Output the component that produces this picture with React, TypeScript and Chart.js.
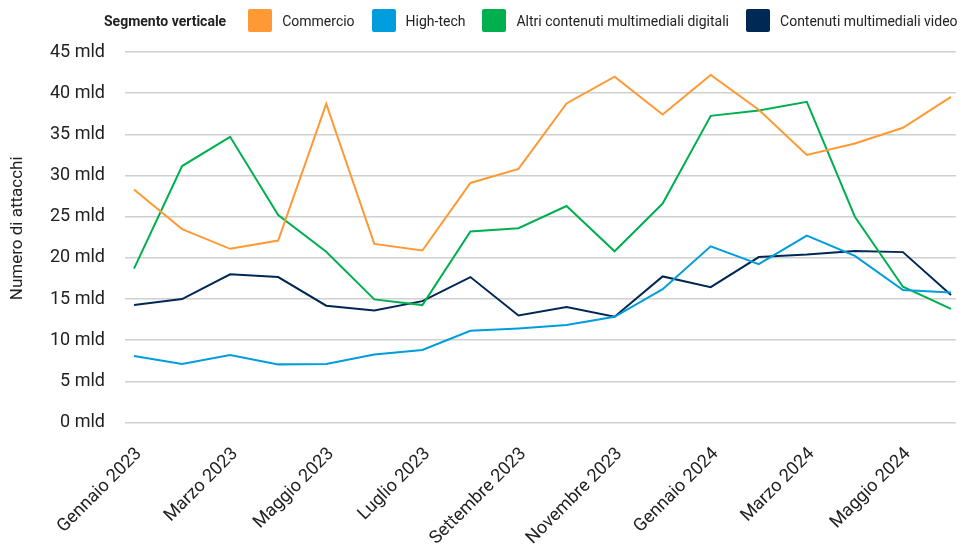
import React, { useEffect, useRef } from "react";
import { Chart, registerables } from "chart.js";

Chart.register(...registerables);

const months = [
  "Gennaio 2023", "Febbraio 2023", "Marzo 2023", "Aprile 2023", "Maggio 2023", "Giugno 2023",
  "Luglio 2023", "Agosto 2023", "Settembre 2023", "Ottobre 2023", "Novembre 2023", "Dicembre 2023",
  "Gennaio 2024", "Febbraio 2024", "Marzo 2024", "Aprile 2024", "Maggio 2024", "Giugno 2024",
];

const commercio = [28.3, 23.5, 21.1, 22.1, 38.7, 21.7, 20.9, 29.1, 30.8, 38.75, 42.0, 37.4, 42.2, 38.0, 32.5, 33.9, 35.8, 39.55];
const highTech = [8.08, 7.11, 8.2, 7.07, 7.11, 8.28, 8.81, 11.15, 11.44, 11.84, 12.85, 16.2, 21.4, 19.25, 22.7, 20.25, 16.1, 15.8];
const altri = [18.7, 31.15, 34.7, 25.2, 20.75, 14.96, 14.27, 23.2, 23.6, 26.3, 20.8, 26.6, 37.25, 37.9, 38.95, 25.0, 16.5, 13.8];
const video = [14.27, 15.0, 18.0, 17.67, 14.2, 13.6, 14.75, 17.67, 13.0, 14.03, 12.85, 17.75, 16.45, 20.1, 20.4, 20.85, 20.7, 15.5];

const seriesNames = ["Commercio", "High-tech", "Altri contenuti multimediali digitali", "Contenuti multimediali video"];
const seriesColors = ["#ff9933", "#009ddc", "#00b04f", "#002855"];
const seriesValues = [commercio, highTech, altri, video];

const yTicks = [0, 5, 10, 15, 20, 25, 30, 35, 40, 45];
const xTickIndices = [0, 2, 4, 6, 8, 10, 12, 14, 16];

const legendTitle = "Segmento verticale";
const yTitle = "Numero di attacchi";

const FONT = "Roboto, 'Noto Sans', sans-serif";

const yTitlePlugin = {
  id: "yTitlePlugin",
  afterDraw(chart: any) {
    const { ctx, chartArea } = chart;
    ctx.save();
    ctx.translate(18, (chartArea.top + chartArea.bottom) / 2 - 9);
    ctx.rotate(-Math.PI / 2);
    ctx.textAlign = "center";
    ctx.textBaseline = "middle";
    ctx.fillStyle = "#222222";
    ctx.font = `17px ${FONT}`;
    ctx.fillText(yTitle, 0, 0);
    ctx.restore();
  },
};

export default function App() {
  const ref = useRef<HTMLCanvasElement | null>(null);

  useEffect(() => {
    if (!ref.current) return;
    const chart = new Chart(ref.current, {
      type: "line",
      data: {
        datasets: seriesValues.map((vals, si) => ({
          label: seriesNames[si],
          data: vals.map((v, i) => ({ x: i, y: v })),
          borderColor: seriesColors[si],
          backgroundColor: seriesColors[si],
          borderWidth: 2,
          pointRadius: 0,
          tension: 0,
          fill: false,
        })),
      },
      plugins: [yTitlePlugin],
      options: {
        animation: false,
        responsive: false,
        layout: { padding: { top: 52, right: 6, left: 0, bottom: 0 } },
        plugins: {
          legend: { display: false },
          tooltip: { enabled: false },
        },
        scales: {
          x: {
            type: "linear",
            min: -9 / 48,
            max: 17 + 5 / 48,
            grid: { display: false },
            border: { display: false },
            afterBuildTicks: (scale: any) => {
              scale.ticks = xTickIndices.map((v) => ({ value: v }));
            },
            afterFit: (scale: any) => {
              scale.height = 125.4;
            },
            ticks: {
              autoSkip: false,
              minRotation: 45,
              maxRotation: 45,
              padding: 13,
              labelOffset: 5,
              color: "#222222",
              font: { family: FONT, size: 18 },
              callback: (v: any) => months[Number(v)] ?? "",
            },
          },
          y: {
            min: 0,
            max: 45,
            afterBuildTicks: (scale: any) => {
              scale.ticks = yTicks.map((v) => ({ value: v }));
            },
            afterFit: (scale: any) => {
              scale.width = 125;
            },
            grid: { color: "#d0d0d0", lineWidth: 1.5, drawTicks: false },
            border: { display: false },
            ticks: {
              padding: 20,
              color: "#222222",
              font: { family: FONT, size: 18 },
              callback: (v: any) => `${v} mld`,
            },
          },
        },
      },
    });
    return () => chart.destroy();
  }, []);

  return (
    <div style={{ position: "absolute", left: 0, top: 0, width: 962, height: 548, background: "#ffffff" }}>
      <canvas ref={ref} width={962} height={548} style={{ display: "block", width: 962, height: 548 }} />
      <div
        style={{
          position: "absolute",
          left: 104,
          top: 9,
          height: 23,
          display: "flex",
          alignItems: "center",
          fontFamily: FONT,
          fontSize: 14,
          color: "#222222",
          whiteSpace: "nowrap",
        }}
      >
        <span style={{ fontWeight: 700, marginRight: 22 }}>{legendTitle}</span>
        {seriesNames.map((name, i) => (
          <span key={name} style={{ display: "flex", alignItems: "center", marginLeft: i === 0 ? 0 : 17 }}>
            <span style={{ width: 24, height: 23, background: seriesColors[i], borderRadius: 2, display: "inline-block" }} />
            <span style={{ marginLeft: 10 }}>{name}</span>
          </span>
        ))}
      </div>
    </div>
  );
}
